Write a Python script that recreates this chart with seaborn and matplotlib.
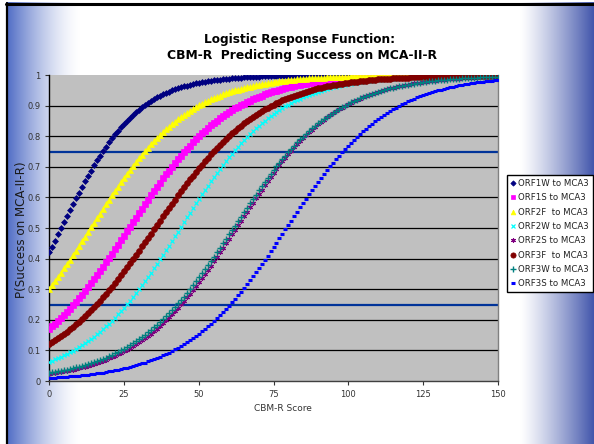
import numpy as np
import pandas as pd
import matplotlib
matplotlib.use("Agg")
import matplotlib.pyplot as plt
import seaborn as sns
from matplotlib.lines import Line2D

# ---- data: fitted logistic models (intercept, slope) ----
series_names = ["ORF1W to MCA3", "ORF1S to MCA3", "ORF2F  to MCA3", "ORF2W to MCA3",
                "ORF2S to MCA3", "ORF3F  to MCA3", "ORF3W to MCA3", "ORF3S to MCA3"]
intercepts = [-0.323, -1.586, -0.847, -2.70, -3.725, -1.988, -3.601, -4.60]
slopes = [0.0794, 0.0594, 0.0610, 0.0617, 0.0597, 0.0563, 0.0586, 0.0580]
scores = list(range(0, 151))
x_ticks = [0, 25, 50, 75, 100, 125, 150]
y_ticks = [0, 0.1, 0.2, 0.3, 0.4, 0.5, 0.6, 0.7, 0.8, 0.9, 1]
y_tick_labels = ["0", "0.1", "0.2", "0.3", "0.4", "0.5", "0.6", "0.7", "0.8", "0.9", "1"]
cut_lines = [0.75, 0.25]

rows = []
for name, a, b in zip(series_names, intercepts, slopes):
    for x in scores:
        rows.append((name, x, 1.0 / (1.0 + np.exp(-(a + b * x)))))
df = pd.DataFrame(rows, columns=["series", "score", "p"])

# ---- styles ----
colors = ["#000080", "#FF00FF", "#FFFF00", "#00FFFF", "#800080", "#800000", "#008080", "#0000FF"]
markers = ["D", "s", "^", "x", (6, 2, 0), "o", "+", "_"]
msizes = [3.0, 3.8, 3.8, 3.4, 3.6, 4.2, 4.2, 3.2]
mews = [0.5, 0.5, 0.5, 0.9, 0.8, 0.5, 1.0, 2.2]

sns.set_theme(style="white")
plt.rcParams["font.family"] = ["DejaVu Sans"]

W, H = 594, 444
fig = plt.figure(figsize=(W / 100, H / 100), dpi=100)

# background slide gradient
bg = fig.add_axes([0, 0, 1, 1])
xs = np.arange(W)
left_t = np.clip((80 - xs) / 72.0, 0, 1) ** 1.5
right_t = np.clip((xs - 520) / 74.0, 0, 1) ** 1.2
left_col = np.array([0.33, 0.44, 0.78])
right_col = np.array([0.25, 0.33, 0.67])
row = np.ones((W, 3))
row = row * (1 - left_t[:, None]) + left_col * left_t[:, None]
row = row * (1 - right_t[:, None]) + right_col * right_t[:, None]
img = np.repeat(row[None, :, :], H, axis=0)
img[:, :6, :] = 1.0
img[:3, :, :] = 1.0
bg.imshow(img, aspect="auto", extent=[0, W, H, 0], interpolation="bilinear")
bg.plot([6.5, 6.5], [3, H], color="black", lw=1.6)
bg.plot([6, W], [4, 4], color="black", lw=2.2)
bg.set_xlim(0, W)
bg.set_ylim(H, 0)
bg.axis("off")

# main plot
ax = fig.add_axes([49 / W, 1 - 381 / H, (498 - 49) / W, (381 - 75) / H])
ax.set_facecolor("#C0C0C0")
for yv in y_ticks[1:-1]:
    ax.axhline(yv, color="black", lw=0.9, zorder=1)
for yv in cut_lines:
    ax.axhline(yv, color="#003399", lw=1.6, zorder=1.5)

for name, c, m, ms, mew in zip(series_names, colors, markers, msizes, mews):
    sub = df[df["series"] == name]
    sns.lineplot(data=sub, x="score", y="p", ax=ax, linestyle="", marker=m,
                 markersize=ms, color=c, markeredgecolor=c, markeredgewidth=mew,
                 zorder=3, legend=False)

ax.set_xlim(0, 150)
ax.set_ylim(0, 1)
ax.set_xticks(x_ticks)
ax.set_xticklabels([str(v) for v in x_ticks])
ax.set_yticks(y_ticks)
ax.set_yticklabels(y_tick_labels)
ax.tick_params(axis="both", labelsize=6, colors="#333333", length=3, width=0.8,
               direction="out", pad=3)
ax.tick_params(axis="x", pad=3.5)
ax.xaxis.set_ticks_position("bottom")
ax.yaxis.set_ticks_position("left")
ax.spines["top"].set_visible(False)
ax.spines["left"].set_color("black")
ax.spines["left"].set_linewidth(1.0)
ax.spines["bottom"].set_color("#404040")
ax.spines["bottom"].set_linewidth(1.0)
ax.spines["right"].set_color("#808080")
ax.spines["right"].set_linewidth(1.0)
ax.set_xlabel("CBM-R Score", fontsize=6.5, color="#333333")
ax.xaxis.set_label_coords((283 - 49) / (498 - 49), -(404 - 381) / (381 - 75))
ax.set_ylabel("P(Success on MCA-II-R)", fontsize=8.6, color="#1a1a1a")
ax.yaxis.set_label_coords(-(49 - 28) / (498 - 49), (381 - 230) / (381 - 75))

fig.text(300 / W, 1 - 40 / H, "Logistic Response Function:", ha="center", va="center",
         fontsize=8.7, fontweight="bold", color="black")
fig.text(302 / W, 1 - 56 / H, "CBM-R  Predicting Success on MCA-II-R", ha="center",
         va="center", fontsize=8.9, fontweight="bold", color="black")

handles = [Line2D([], [], linestyle="", marker=m, markersize=ms * 0.9, color=c,
                  markeredgecolor=c, markeredgewidth=mew)
           for c, m, ms, mew in zip(colors, markers, msizes, mews)]
leg = fig.legend(handles, series_names, loc="upper left",
                 bbox_to_anchor=(507 / W, 1 - 175 / H), fontsize=6.2,
                 frameon=True, fancybox=False, edgecolor="black", framealpha=1,
                 handlelength=0.6, handletextpad=0.25, labelspacing=0.62,
                 borderpad=0.45, borderaxespad=0)
leg.get_frame().set_linewidth(1.0)
for t in leg.get_texts():
    t.set_color("#222222")

fig.savefig("out.png", dpi=100)
